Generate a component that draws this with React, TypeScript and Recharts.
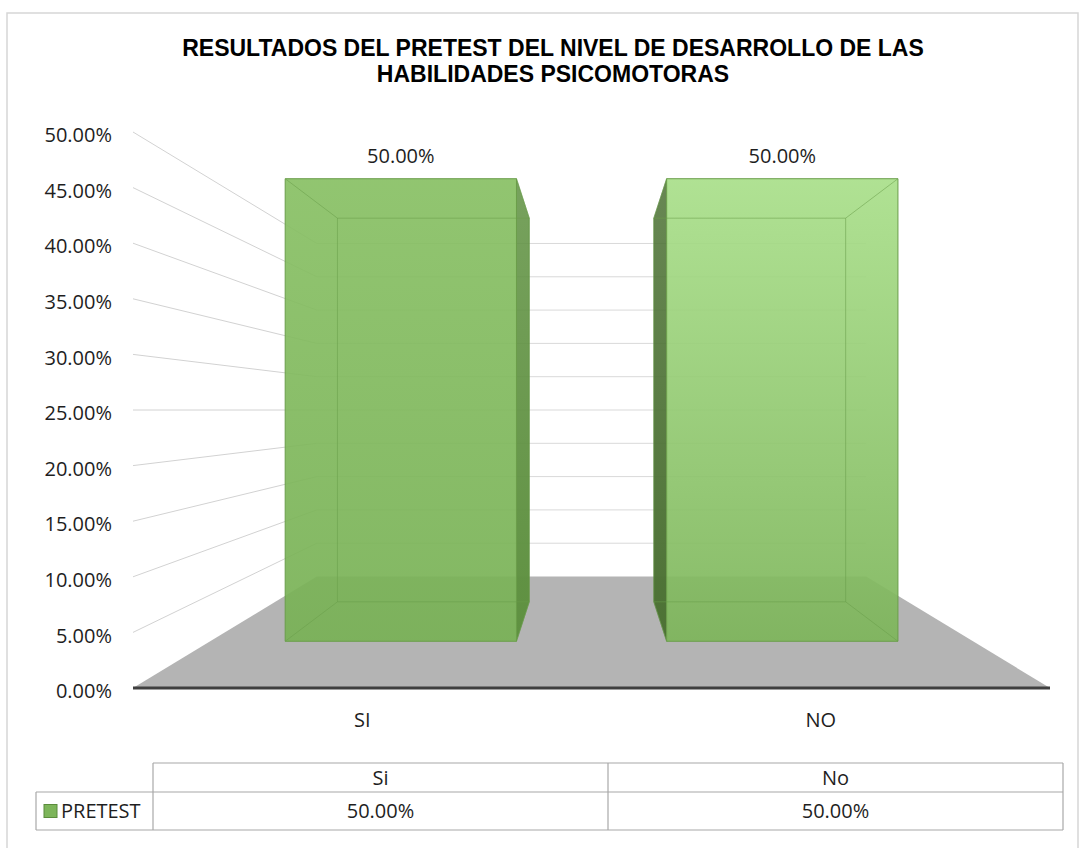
import React from 'react';
import { BarChart, Bar, XAxis, YAxis, CartesianGrid, LabelList } from 'recharts';

// ---------- data ----------
const chartTitle = ['RESULTADOS DEL PRETEST DEL NIVEL DE DESARROLLO DE LAS', 'HABILIDADES PSICOMOTORAS'];
const categories = ['SI', 'NO'];
const tableCategories = ['Si', 'No'];
const seriesName = 'PRETEST';
const pretestValues = [0.5, 0.5];
const yTicks = [0, 0.05, 0.1, 0.15, 0.2, 0.25, 0.3, 0.35, 0.4, 0.45, 0.5];

const data = categories.map((name, i) => ({ name, value: pretestValues[i] }));

// ---------- layout ----------
const W = 1081;
const H = 848;
const MARGIN = { top: 132, right: 31, bottom: 120, left: 0 };
const Y_AXIS_W = 133;
const X_AXIS_H = 40;
const PLOT = {
  left: MARGIN.left + Y_AXIS_W,
  right: W - MARGIN.right,
  top: MARGIN.top,
  bottom: H - MARGIN.bottom - X_AXIS_H,
};
const VP = { x: (PLOT.left + PLOT.right) / 2, y: (PLOT.top + PLOT.bottom) / 2 };
const DEPTH = { wall: 0.599, barFront: 0.832, barBack: 0.69 };
const proj = (X: number, Y: number, s: number): [number, number] => [VP.x + (X - VP.x) * s, VP.y + (Y - VP.y) * s];
const pct = (v: number) => (v * 100).toFixed(2) + '%';
const FONT = "'Open Sans', 'Noto Sans', sans-serif";
const TITLE_FONT = "'Liberation Sans', Arial, sans-serif";
const TEXT_COLOR = '#1e1e1e';

const BAR_STYLES = [
  { top: '#88c064', bottom: '#78b155', side: '#5f9141', edge: '#6a9e4a' },
  { top: '#a9df8a', bottom: '#7db55a', side: '#4d7235', edge: '#6a9e4a' },
];

const pts = (arr: [number, number][]) => arr.map((p) => p.join(',')).join(' ');

// ---------- grid: left wall, back wall and floor ----------
const renderGridLine = (props: any) => {
  const { x1, x2, y1, index } = props;
  const [lx, ly] = proj(x1, y1, DEPTH.wall);
  const [rx] = proj(x2, y1, DEPTH.wall);
  if (Math.abs(y1 - PLOT.bottom) < 1) {
    return (
      <g key={`floor-${index}`}>
        <polygon points={`${x1},${y1} ${x2},${y1} ${rx},${ly} ${lx},${ly}`} fill="#b4b4b4" />
        <line x1={x1} y1={y1} x2={x2} y2={y1} stroke="#3f3f3f" strokeWidth={3} />
      </g>
    );
  }
  return (
    <g key={`gl-${index}`}>
      <line x1={x1} y1={y1} x2={lx} y2={ly} stroke="#d2d2d2" strokeWidth={1} />
      <line x1={lx} y1={ly} x2={rx} y2={ly} stroke="#d9d9d9" strokeWidth={1} />
    </g>
  );
};

// ---------- 3D bar ----------
const Box3D = (props: any) => {
  const { x, y, width, height, index } = props;
  if (!height) return null;
  const st = BAR_STYLES[index % BAR_STYLES.length];
  const X0 = x;
  const X1 = x + width;
  const Yt = y;
  const Yb = y + height;
  const F = (X: number, Y: number) => proj(X, Y, DEPTH.barFront);
  const B = (X: number, Y: number) => proj(X, Y, DEPTH.barBack);
  const ftl = F(X0, Yt), ftr = F(X1, Yt), fbr = F(X1, Yb), fbl = F(X0, Yb);
  const btl = B(X0, Yt), btr = B(X1, Yt), bbr = B(X1, Yb), bbl = B(X0, Yb);
  const rightVisible = X1 < VP.x;
  const side: [number, number][] = rightVisible ? [ftr, btr, bbr, fbr] : [ftl, btl, bbl, fbl];
  const gid = `barGrad${index}`;
  const sid = `sideGrad${index}`;
  const inner = { stroke: st.edge, strokeOpacity: 0.55, strokeWidth: 1 };
  return (
    <g>
      <defs>
        <linearGradient id={gid} x1="0" y1="0" x2="0" y2="1">
          <stop offset="0%" stopColor={st.top} />
          <stop offset="100%" stopColor={st.bottom} />
        </linearGradient>
        <linearGradient id={sid} x1="0" y1="0" x2="0" y2="1">
          <stop offset="0%" stopColor={st.side} stopOpacity={0.85} />
          <stop offset="100%" stopColor={st.side} />
        </linearGradient>
      </defs>
      <polygon points={pts(side)} fill={`url(#${sid})`} stroke={st.side} strokeWidth={0.5} />
      <polygon points={pts([ftl, ftr, fbr, fbl])} fill={`url(#${gid})`} fillOpacity={0.92} stroke={st.edge} strokeWidth={1} />
      <polygon points={pts([btl, btr, bbr, bbl])} fill="none" {...inner} />
      <line x1={ftl[0]} y1={ftl[1]} x2={btl[0]} y2={btl[1]} {...inner} />
      <line x1={ftr[0]} y1={ftr[1]} x2={btr[0]} y2={btr[1]} {...inner} />
      <line x1={fbl[0]} y1={fbl[1]} x2={bbl[0]} y2={bbl[1]} {...inner} />
      <line x1={fbr[0]} y1={fbr[1]} x2={bbr[0]} y2={bbr[1]} {...inner} />
    </g>
  );
};

const BarValueLabel = (props: any) => {
  const vb = props.viewBox && props.viewBox.width !== undefined ? props.viewBox : props;
  const { x, y, width } = vb;
  if (x === undefined) return null;
  const [cx, ty] = proj(x + width / 2, y, DEPTH.barFront);
  return (
    <text x={cx} y={ty - 16} textAnchor="middle" fontFamily={FONT} fontSize={20} fill={TEXT_COLOR}>
      {pct(Number(props.value))}
    </text>
  );
};

const YTick = (props: any) => {
  const { x, y, payload } = props;
  return (
    <text x={x} y={y + 3} dy="0.355em" textAnchor="end" fontFamily={FONT} fontSize={20} fill={TEXT_COLOR}>
      {pct(payload.value)}
    </text>
  );
};

const XTick = (props: any) => {
  const { x, y, payload } = props;
  return (
    <text x={x} y={y} dy="0.71em" textAnchor="middle" fontFamily={FONT} fontSize={20} fill={TEXT_COLOR}>
      {payload.value}
    </text>
  );
};

// ---------- overlay: border, title, data table ----------
const TABLE = { left: 36, keyRight: 153, right: 1063, top: 763, mid: 792, bottom: 830 };

const Overlay = () => {
  const colW = (TABLE.right - TABLE.keyRight) / tableCategories.length;
  const line = { stroke: '#a8a8a8', strokeWidth: 1.2 };
  return (
    <svg width={W} height={H} style={{ position: 'absolute', left: 0, top: 0, pointerEvents: 'none' }}>
      <rect x={7} y={13} width={1071} height={845} fill="none" stroke="#d6d6d6" strokeWidth={1.5} />
      {chartTitle.map((t, i) => (
        <text key={i} x={553} y={56 + i * 26} textAnchor="middle" fontFamily={TITLE_FONT} fontWeight="bold" fontSize={23} fill="#000">
          {t}
        </text>
      ))}
      {/* table lines */}
      <line x1={TABLE.keyRight} y1={TABLE.top} x2={TABLE.right} y2={TABLE.top} {...line} />
      <line x1={TABLE.left} y1={TABLE.mid} x2={TABLE.right} y2={TABLE.mid} {...line} />
      <line x1={TABLE.left} y1={TABLE.bottom} x2={TABLE.right} y2={TABLE.bottom} {...line} />
      <line x1={TABLE.left} y1={TABLE.mid} x2={TABLE.left} y2={TABLE.bottom} {...line} />
      {tableCategories.map((_, i) => (
        <line key={`v${i}`} x1={TABLE.keyRight + i * colW} y1={TABLE.top} x2={TABLE.keyRight + i * colW} y2={TABLE.bottom} {...line} />
      ))}
      <line x1={TABLE.right} y1={TABLE.top} x2={TABLE.right} y2={TABLE.bottom} {...line} />
      {tableCategories.map((c, i) => (
        <text key={`h${i}`} x={TABLE.keyRight + (i + 0.5) * colW} y={(TABLE.top + TABLE.mid) / 2} dy="0.355em" textAnchor="middle" fontFamily={FONT} fontSize={20} fill={TEXT_COLOR}>
          {c}
        </text>
      ))}
      {pretestValues.map((v, i) => (
        <text key={`d${i}`} x={TABLE.keyRight + (i + 0.5) * colW} y={(TABLE.mid + TABLE.bottom) / 2} dy="0.355em" textAnchor="middle" fontFamily={FONT} fontSize={20} fill={TEXT_COLOR}>
          {pct(v)}
        </text>
      ))}
      <rect x={44} y={(TABLE.mid + TABLE.bottom) / 2 - 6.5} width={13} height={13} fill="#7db55a" stroke="#5b8c3c" strokeWidth={1} />
      <text x={61} y={(TABLE.mid + TABLE.bottom) / 2} dy="0.355em" fontFamily={FONT} fontSize={20} fill={TEXT_COLOR}>
        {seriesName}
      </text>
    </svg>
  );
};

export default function App() {
  return (
    <div style={{ position: 'absolute', left: 0, top: 0, width: W, height: H, background: '#fff', overflow: 'hidden' }}>
      <BarChart width={W} height={H} data={data} margin={MARGIN} barCategoryGap="19.7%">
        <CartesianGrid vertical={false} horizontal={renderGridLine} />
        <XAxis dataKey="name" height={X_AXIS_H} axisLine={false} tickLine={false} tickSize={0} tickMargin={25} tick={<XTick />} />
        <YAxis
          width={Y_AXIS_W}
          domain={[0, 0.5]}
          ticks={yTicks}
          interval={0}
          axisLine={false}
          tickLine={false}
          tickSize={0}
          tickMargin={21}
          tick={<YTick />}
        />
        <Bar dataKey="value" name={seriesName} shape={<Box3D />} isAnimationActive={false}>
          <LabelList dataKey="value" content={<BarValueLabel />} />
        </Bar>
      </BarChart>
      <Overlay />
    </div>
  );
}
